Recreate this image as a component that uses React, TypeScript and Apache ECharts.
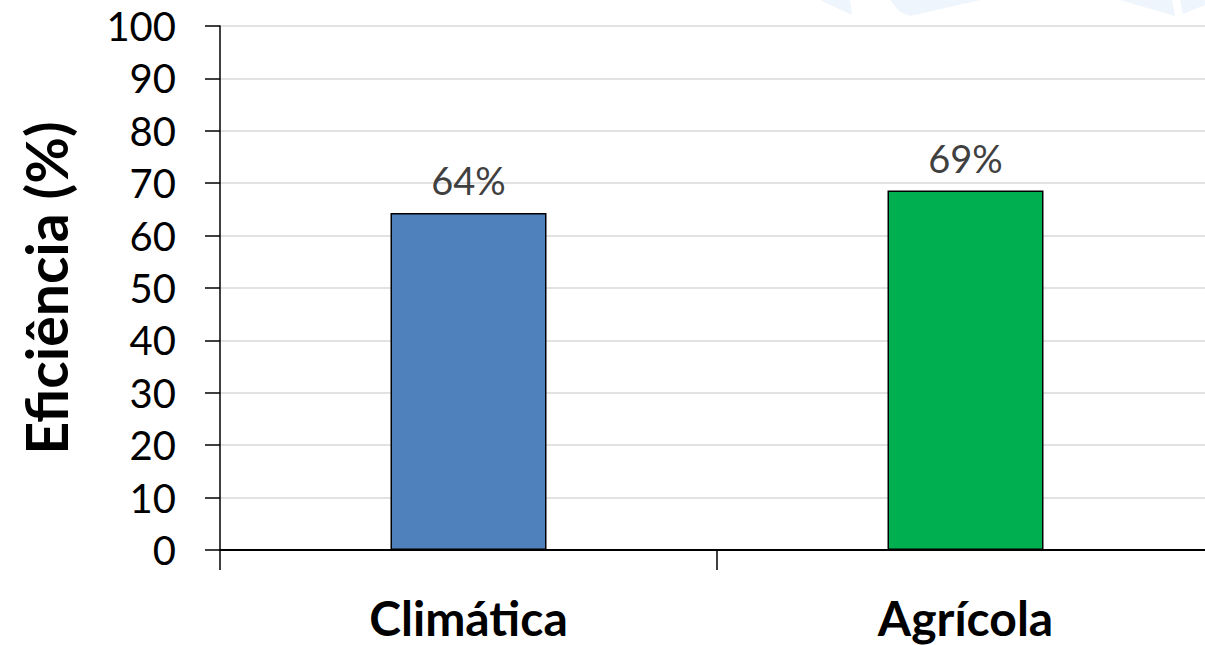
import React, { useEffect, useRef } from "react";
import * as echarts from "echarts";

const categories = ["Climática", "Agrícola"];
const values = [64.3, 68.6];
const barColors = ["#4f81bd", "#00b050"];
const yTicks = { min: 0, max: 100, interval: 10 };
const yName = "Eficiência (%)";

export default function App() {
  const ref = useRef<HTMLDivElement>(null);
  useEffect(() => {
    document.body.style.margin = "0";
    const chart = echarts.init(ref.current!, null, { renderer: "svg" });
    const font = "Lato, 'Open Sans', sans-serif";
    chart.setOption({
      animation: false,
      backgroundColor: "#ffffff",
      graphic: [
        { type: "polygon", shape: { points: [[820, 0], [850, 0], [852, 15]] }, style: { fill: "#eef5fc" }, silent: true, z: -10 },
        { type: "polygon", shape: { points: [[890, 0], [980, 0], [910, 16], [900, 12]] }, style: { fill: "#eef5fc" }, silent: true, z: -10 },
        { type: "polygon", shape: { points: [[1120, 0], [1172, 0], [1175, 16]] }, style: { fill: "#eef5fc" }, silent: true, z: -10 },
        { type: "polygon", shape: { points: [[1180, 0], [1205, 0], [1205, 5], [1183, 14]] }, style: { fill: "#eef5fc" }, silent: true, z: -10 },
      ],
      grid: { left: 220, top: 26, right: 6, bottom: 95, containLabel: false },
      xAxis: {
        type: "category",
        data: categories,
        boundaryGap: true,
        axisLine: { show: true, lineStyle: { color: "#000", width: 2 } },
        axisTick: { show: true, alignWithLabel: false, length: 20, lineStyle: { color: "#000", width: 1.5 } },
        axisLabel: { color: "#000", fontFamily: font, fontWeight: "bold", fontSize: 48, lineHeight: 50, margin: 42 },
        splitLine: { show: false },
      },
      yAxis: {
        type: "value",
        min: yTicks.min,
        max: yTicks.max,
        interval: yTicks.interval,
        name: yName,
        nameLocation: "middle",
        nameGap: 146,
        nameRotate: 90,
        nameTextStyle: { color: "#000", fontFamily: font, fontWeight: "bold", fontSize: 57 },
        axisLine: { show: true, lineStyle: { color: "#000", width: 1.5 } },
        axisTick: { show: true, length: 15, lineStyle: { color: "#000", width: 1.5 } },
        axisLabel: { color: "#000", fontFamily: font, fontSize: 40, margin: 44 },
        splitLine: { show: true, lineStyle: { color: "#d9d9d9", width: 1.5 } },
      },
      series: [
        {
          type: "bar",
          barWidth: 156,
          data: values.map((v, i) => ({ value: v, itemStyle: { color: barColors[i] } })),
          itemStyle: { borderColor: "#000", borderWidth: 1.5 },
          label: {
            show: true,
            position: "top",
            distance: 14,
            color: "#404040",
            fontFamily: font,
            fontSize: 38,
            formatter: (p: any) => Math.round(p.value) + "%",
          },
        },
      ],
    });
    return () => chart.dispose();
  }, []);
  return (
    <div style={{ width: 1205, height: 645, position: "absolute", left: 0, top: 0, overflow: "hidden" }}>
      <div ref={ref} style={{ width: 1220, height: 645 }} />
    </div>
  );
}
